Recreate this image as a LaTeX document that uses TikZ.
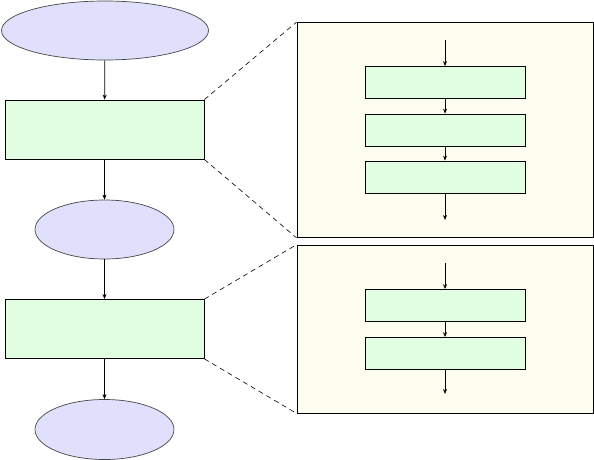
\documentclass[tikz,border=0pt]{standalone}
\usetikzlibrary{shapes.geometric,arrows.meta}
\definecolor{ellfill}{RGB}{224,224,252}
\definecolor{boxfill}{RGB}{226,254,226}
\definecolor{panfill}{RGB}{254,254,240}
\definecolor{ellline}{RGB}{70,70,70}
\begin{document}
\begin{tikzpicture}[x=1pt,y=-1pt,
  ell/.style={ellipse,draw=ellline,fill=ellfill,line width=0.7pt,inner sep=0pt},
  bigbox/.style={rectangle,draw=black,fill=boxfill,line width=0.8pt,inner sep=0pt,minimum width=199pt,minimum height=59pt},
  smallbox/.style={rectangle,draw=black,fill=boxfill,line width=0.8pt,inner sep=0pt,minimum width=160pt,minimum height=32pt},
  panel/.style={rectangle,draw=black,fill=panfill,line width=0.8pt,inner sep=0pt,minimum width=296pt},
  arr/.style={-{Stealth[length=5pt,width=4pt]},line width=0.7pt},
  zoomline/.style={dashed,dash pattern=on 5pt off 4pt,line width=0.6pt}]
\useasboundingbox (0,0) rectangle (594,460);
% left column
\node[ell,minimum width=207pt,minimum height=59pt] (e1) at (105,30.5) {};
\node[bigbox] (b1) at (104.5,129.5) {};
\node[ell,minimum width=139pt,minimum height=59pt] (e2) at (104.5,229.5) {};
\node[bigbox] (b2) at (104.5,329) {};
\node[ell,minimum width=139pt,minimum height=60pt] (e3) at (104.5,429.5) {};
\draw[arr] (e1) -- (b1);
\draw[arr] (b1) -- (e2);
\draw[arr] (e2) -- (b2);
\draw[arr] (b2) -- (e3);
% panel 1
\node[panel,minimum height=215pt] (p1) at (445,130) {};
\node[smallbox] (s11) at (445,82.5) {};
\node[smallbox] (s12) at (445,130) {};
\node[smallbox] (s13) at (445,177) {};
\coordinate (p1in) at (445,40);
\coordinate (p1out) at (445,220);
\draw[arr] (p1in) -- (s11);
\draw[arr] (s11) -- (s12);
\draw[arr] (s12) -- (s13);
\draw[arr] (s13) -- (p1out);
% panel 2
\node[panel,minimum height=168pt] (p2) at (445,329) {};
\node[smallbox] (s21) at (445,305.5) {};
\node[smallbox] (s22) at (445,353.5) {};
\coordinate (p2in) at (445,263);
\coordinate (p2out) at (445,394);
\draw[arr] (p2in) -- (s21);
\draw[arr] (s21) -- (s22);
\draw[arr] (s22) -- (p2out);
% zoom lines
\draw[zoomline] (b1.north east) -- (p1.north west);
\draw[zoomline] (b1.south east) -- (p1.south west);
\draw[zoomline] (b2.north east) -- (p2.north west);
\draw[zoomline] (b2.south east) -- (p2.south west);
\end{tikzpicture}
\end{document}
